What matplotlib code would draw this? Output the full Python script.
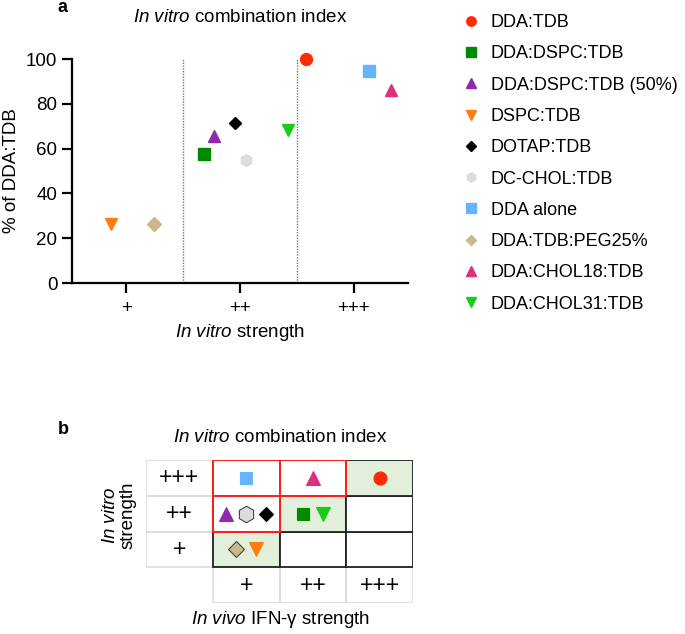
import matplotlib
matplotlib.use("Agg")
import matplotlib.pyplot as plt
from matplotlib.patches import Rectangle
from matplotlib.lines import Line2D

plt.rcParams['font.family'] = ['Liberation Sans', 'DejaVu Sans']
plt.rcParams['font.size'] = 13
plt.rcParams['mathtext.fontset'] = 'custom'
plt.rcParams['mathtext.rm'] = 'Liberation Sans'
plt.rcParams['mathtext.it'] = 'Liberation Sans:italic'

# formulations (legend order)
names = ['DDA:TDB', 'DDA:DSPC:TDB', 'DDA:DSPC:TDB (50%)', 'DSPC:TDB', 'DOTAP:TDB',
         'DC-CHOL:TDB', 'DDA alone', 'DDA:TDB:PEG25%', 'DDA:CHOL18:TDB', 'DDA:CHOL31:TDB']
# % of DDA:TDB (panel a)
pct = [100, 57.5, 65.5, 26.5, 71.5, 55, 94.5, 26.5, 86, 68.5]
# in vitro strength category (0 = +, 1 = ++, 2 = +++) and x position
vitro_level = [2, 1, 1, 0, 1, 1, 2, 0, 2, 1]
x_pos = [1.58, 0.68, 0.77, -0.14, 0.96, 1.05, 2.14, 0.24, 2.33, 1.42]
# in vivo IFN-gamma strength category (0 = +, 1 = ++, 2 = +++) for panel b
vivo_level = [2, 1, 0, 0, 0, 0, 0, 0, 1, 1]
strength_labels = ['+', '++', '+++']

colors = ['#FF2A00', '#008A00', '#8E2BAE', '#FF7F0E', '#000000',
          '#DCDCDC', '#66B3FF', '#CBB98C', '#DE2E7E', '#19CC19']
markers = ['o', 's', '^', 'v', 'D', 'h', 's', 'D', '^', 'v']
sizes = [8.5, 8.5, 9, 9, 6.5, 8.5, 8.5, 7, 9, 9]

fig = plt.figure(figsize=(6.85, 6.34), dpi=100)

# ---- panel a ----
ax = fig.add_axes([72 / 685, 1 - 283 / 634, 336 / 685, 224 / 634])
for i in range(len(names)):
    ax.plot(x_pos[i], pct[i], marker=markers[i], color=colors[i], ms=sizes[i],
            linestyle='none', clip_on=False, zorder=3)
for xd in [0.5, 1.5]:
    ax.plot([xd, xd], [0, 100], color='#777777', linestyle=(0, (1, 1)), lw=1)
ax.set_xlim(-0.48, 2.48)
ax.set_ylim(0, 100)
ax.set_yticks(range(0, 101, 20))
ax.set_xticks(range(3))
ax.set_xticklabels(strength_labels)
for s in ['top', 'right']:
    ax.spines[s].set_visible(False)
for s in ['left', 'bottom']:
    ax.spines[s].set_linewidth(1.6)
ax.tick_params(width=1.6, length=7, labelsize=13.5)
ax.tick_params(axis='x', pad=5)
ax.set_ylabel('% of DDA:TDB', fontsize=13.5)
ax.set_xlabel(r'$\it{In\ vitro}$ strength', fontsize=13.5, labelpad=4)
fig.text(240 / 685, 1 - 18 / 634, r'$\it{In\ vitro}$ combination index',
         ha='center', va='center', fontsize=13.5)
fig.text(58 / 685, 1 - 8 / 634, 'a', fontweight='bold', fontsize=13, va='center')

handles = [Line2D([], [], marker=markers[i], color=colors[i], linestyle='none',
                  ms=sizes[i] * 0.8) for i in range(len(names))]
fig.legend(handles, names, loc='upper left', bbox_to_anchor=(453 / 685, 1 - 7 / 634),
           frameon=False, fontsize=13, labelspacing=0.79, handletextpad=0.5,
           handlelength=1.2, borderaxespad=0)

# ---- panel b ----
bx = fig.add_axes([146 / 685, 1 - 603 / 634, 267 / 685, 143 / 634])
bx.set_xlim(0, 4)
bx.set_ylim(0, 4)
bx.axis('off')
grey = '#DDDDDD'
for r in range(1, 4):
    bx.add_patch(Rectangle((0, r), 1, 1, fill=False, ec=grey, lw=1.2))
    bx.text(0.5, r + 0.5, strength_labels[r - 1], ha='center', va='center', fontsize=16.5)
for c in range(1, 4):
    bx.add_patch(Rectangle((c, 0), 1, 1, fill=False, ec=grey, lw=1.2))
    bx.text(c + 0.5, 0.5, strength_labels[c - 1], ha='center', va='center', fontsize=16.5)
for r in range(1, 4):
    for c in range(1, 4):
        fc = '#E2EFDA' if r == c else 'white'
        bx.add_patch(Rectangle((c, r), 1, 1, fc=fc, ec='#222222', lw=1.3, zorder=1))
for (c, r) in [(1, 3), (2, 3), (1, 2)]:
    bx.add_patch(Rectangle((c, r), 1, 1, fill=False, ec='#FF2020', lw=1.4, zorder=2))

table_order = [6, 8, 0, 2, 5, 4, 1, 9, 7, 3]
cells = {}
for i in table_order:
    cells.setdefault((vivo_level[i], vitro_level[i]), []).append(i)
for (c, r), members in cells.items():
    n = len(members)
    for k, i in enumerate(members):
        xo = c + 1.5 + (k - (n - 1) / 2) * 0.3
        edge = '#444444' if markers[i] in ('h', 'D') and colors[i] != '#000000' else colors[i]
        bx.plot(xo, r + 1.5, marker=markers[i], color=colors[i], mec=edge, mew=0.8,
                ms=sizes[i] * 1.1 + (2.5 if markers[i] == 'h' else 0),
                linestyle='none', zorder=4)

fig.text(280 / 685, 1 - 437 / 634, r'$\it{In\ vitro}$ combination index',
         ha='center', va='center', fontsize=13.5)
fig.text(280 / 685, 1 - 620 / 634, r'$\it{In\ vivo}$ IFN-γ strength',
         ha='center', va='center', fontsize=13.5)
fig.text(119 / 685, 1 - 515 / 634, r'$\it{In\ vitro}$' + '\nstrength', rotation=90,
         ha='center', va='center', fontsize=13.5, linespacing=1.05)
fig.text(58 / 685, 1 - 430 / 634, 'b', fontweight='bold', fontsize=13, va='center')

fig.savefig('out.png', dpi=100)
